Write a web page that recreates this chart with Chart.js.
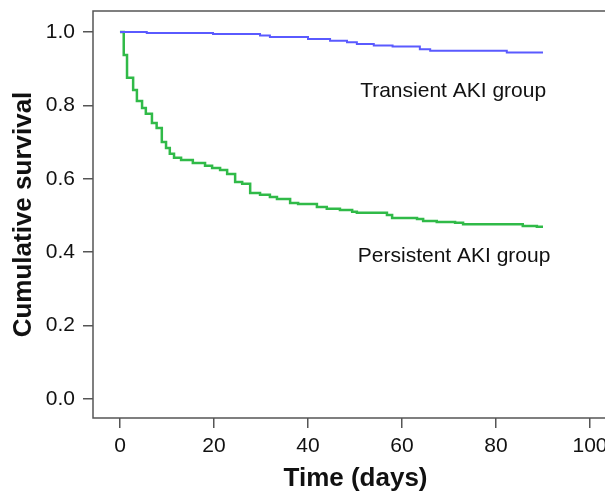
<!DOCTYPE html>
<html lang="en">
<head>
<meta charset="UTF-8" />
<title>Cumulative survival</title>
<script src="https://cdn.jsdelivr.net/npm/chart.js@4"></script>
<style>
  html, body { margin: 0; padding: 0; overflow: hidden; background: #fff; }
  #wrap { width: 630px; height: 493px; }
</style>
</head>
<body>
<div id="wrap"><canvas id="chart"></canvas></div>
<script>
// Kaplan-Meier steps (day, cumulative survival)
const transientDays = [0, 5.7, 19.8, 29.8, 31.9, 40, 44.7, 48.3, 50.4, 54, 58, 63.8, 66, 82.3, 90];
const transientSurv = [1.0, 0.997, 0.994, 0.99, 0.986, 0.981, 0.976, 0.972, 0.967, 0.963, 0.96, 0.953, 0.949, 0.944, 0.944];

const persistentDays = [0, 0.8, 1.5, 2.8, 3.6, 4.7, 5.5, 6.8, 7.8, 8.9, 9.8, 10.6, 11.5, 13.0,
  15.5, 18.1, 19.6, 21.3, 22.8, 24.5, 26.0, 27.7, 29.8, 31.9, 33.4, 36.2, 37.9, 41.9, 44.0,
  46.8, 49.4, 50.4, 56.8, 57.9, 63.2, 64.5, 67.4, 71.3, 73.0, 85.7, 88.7, 90];
const persistentSurv = [1.0, 0.937, 0.875, 0.842, 0.812, 0.793, 0.777, 0.752, 0.738, 0.700, 0.684, 0.668, 0.657, 0.651,
  0.643, 0.635, 0.629, 0.624, 0.613, 0.591, 0.586, 0.561, 0.556, 0.550, 0.545, 0.534, 0.531, 0.523, 0.518,
  0.515, 0.510, 0.507, 0.501, 0.493, 0.490, 0.485, 0.482, 0.480, 0.476, 0.471, 0.469, 0.469];

const xTicks = [0, 20, 40, 60, 80, 100];
const yTicks = [0, 0.2, 0.4, 0.6, 0.8, 1.0];

const groupLabels = [
  { text: 'Transient AKI group', x: 51.1, y: 0.824 },
  { text: 'Persistent AKI group', x: 50.6, y: 0.373 }
];

function points(xs, ys) {
  return xs.map((x, i) => ({ x: x, y: ys[i] }));
}

const font = 'Liberation Sans, Arial, sans-serif';

// box around the plot + the two group labels
const extras = {
  id: 'extras',
  afterDraw(chart) {
    const ctx = chart.ctx;
    const a = chart.chartArea;
    ctx.save();
    ctx.strokeStyle = '#555';
    ctx.lineWidth = 1.5;
    ctx.strokeRect(a.left, a.top, a.right - a.left, a.bottom - a.top);
    ctx.fillStyle = '#111';
    ctx.font = '21px ' + font;
    ctx.textAlign = 'left';
    ctx.textBaseline = 'alphabetic';
    groupLabels.forEach(l => {
      ctx.fillText(l.text, chart.scales.x.getPixelForValue(l.x), chart.scales.y.getPixelForValue(l.y));
    });
    ctx.restore();
  }
};

new Chart(document.getElementById('chart'), {
  type: 'line',
  data: {
    datasets: [{
      label: 'Transient AKI group',
      data: points(transientDays, transientSurv),
      borderColor: '#5a5aff',
      borderWidth: 2,
      pointRadius: 0,
      stepped: true,
      fill: false
    }, {
      label: 'Persistent AKI group',
      data: points(persistentDays, persistentSurv),
      borderColor: '#30ba48',
      borderWidth: 2.5,
      pointRadius: 0,
      stepped: true,
      fill: false
    }]
  },
  options: {
    responsive: true,
    maintainAspectRatio: false,
    animation: false,
    layout: { padding: { top: 11, right: 12, left: 0, bottom: 0 } },
    plugins: { legend: { display: false }, tooltip: { enabled: false } },
    scales: {
      x: {
        type: 'linear',
        min: -5.74,
        max: 105.96,
        afterBuildTicks: s => { s.ticks = xTicks.map(v => ({ value: v })); },
        afterFit: s => { s.height = 75; s.paddingLeft = 0; s.paddingRight = 0; },
        border: { display: false },
        grid: { drawOnChartArea: false, drawTicks: true, tickLength: 10, color: '#555', lineWidth: 1.5 },
        ticks: { color: '#111', padding: 6, font: { family: font, size: 21 } },
        title: {
          display: true,
          text: 'Time (days)',
          color: '#111',
          padding: { top: 0, bottom: 1 },
          font: { family: font, size: 26, weight: 'bold', lineHeight: 1 }
        }
      },
      y: {
        min: -0.052,
        max: 1.057,
        afterBuildTicks: s => { s.ticks = yTicks.map(v => ({ value: v })); },
        afterFit: s => { s.width = 93; s.paddingTop = 0; s.paddingBottom = 0; },
        border: { display: false },
        grid: { drawOnChartArea: false, drawTicks: true, tickLength: 10, color: '#555', lineWidth: 1.5 },
        ticks: { color: '#111', padding: 8, font: { family: font, size: 21 }, callback: v => v.toFixed(1) },
        title: {
          display: true,
          text: 'Cumulative survival',
          color: '#111',
          padding: { top: 11, bottom: 0 },
          font: { family: font, size: 26, weight: 'bold', lineHeight: 1 }
        }
      }
    }
  },
  plugins: [extras]
});
</script>
</body>
</html>
